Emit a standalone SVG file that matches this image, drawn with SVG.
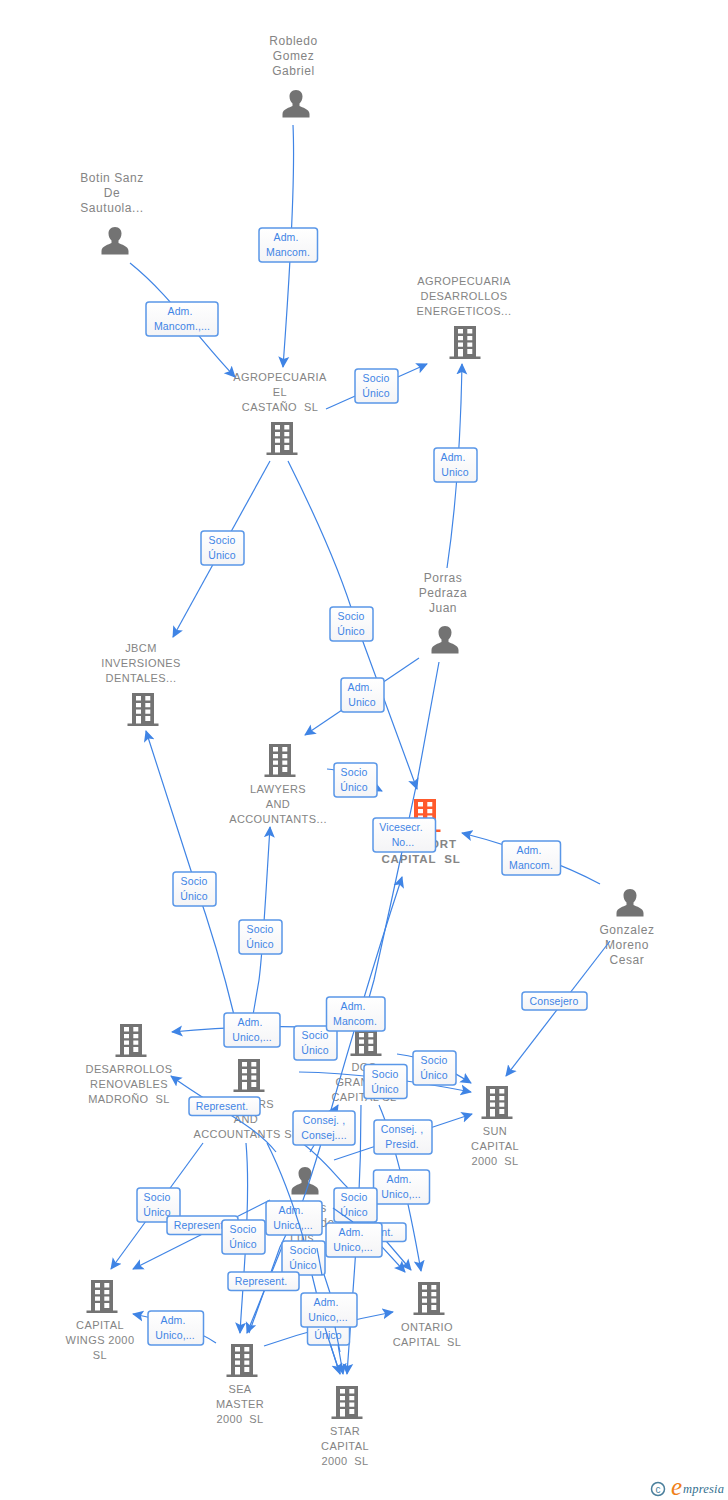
<svg xmlns="http://www.w3.org/2000/svg" width="728" height="1500" viewBox="0 0 728 1500">
<style>
.n{font:11px "Liberation Sans",Arial,sans-serif;fill:#848484;text-anchor:middle;letter-spacing:.4px;white-space:pre}
.h{font-size:12px;letter-spacing:.55px}
.nb{font-size:11.5px;font-weight:bold;letter-spacing:.85px;fill:#858585}
.c path{fill:none;stroke:#3f84e5;stroke-width:1.2}
.l rect{fill:url(#g);stroke:#5a97e8;stroke-width:1.5}
.l text{font:10.5px "Liberation Sans",Arial,sans-serif;fill:#3f84e5;text-anchor:middle;letter-spacing:.1px}
</style>
<defs>
<linearGradient id="g" x1="0" y1="0" x2="0" y2="1"><stop offset="0" stop-color="#fff"/><stop offset="1" stop-color="#f4f4f6"/></linearGradient>
<marker id="a" viewBox="0 0 12 12" refX="10.500" refY="6" markerWidth="12" markerHeight="12" markerUnits="userSpaceOnUse" orient="auto"><path d="M0 .5L11.500 6L0 11.500L2.500 6Z" fill="#3f84e5"/></marker>
<path id="b" d="M-15.500 17V14.500H-11V-16H11V14.500H15.500V17ZM-7-13v4.500h5V-13ZM2.300-13v4.500h5V-13ZM-7-6v4.300h5V-6ZM2.300-6v4.300h5V-6ZM-7 .5v4.300h5V.5ZM2.300 .5v4.300h5V.5ZM-7 7v7.500h5V7ZM2.300 7v5h5V7Z" fill-rule="evenodd"/>
<path id="p" d="M0-14C-4.500-14-6.500-11-6.500-7.500C-6.500-4-5-2-3.500-.5V2C-6 3.500-13.500 5-13.500 10V13.500H13.500V10C13.500 5 6 3.500 3.500 2V-.5C5-2 6.500-4 6.500-7.500C6.500-11 4.500-14 0-14Z"/>
</defs>
<rect width="728" height="1500" fill="#fff"/>
<g id="nodes">
<g id="n-robledo"><text class="n h" x="293.500" y="45">Robledo</text><text class="n h" x="293.500" y="60">Gomez</text><text class="n h" x="293.500" y="75">Gabriel</text><use href="#p" x="296" y="104" fill="#737373"/></g>
<g id="n-botin"><text class="n h" x="112" y="182">Botin Sanz</text><text class="n h" x="112" y="197">De</text><text class="n h" x="112" y="212">Sautuola...</text><use href="#p" x="115" y="241" fill="#737373"/></g>
<g id="n-castano"><text class="n" x="280" y="381">AGROPECUARIA</text><text class="n" x="280" y="396">EL</text><text class="n" x="280" y="411">CASTAÑO  SL</text><use href="#b" x="282" y="438" fill="#737373"/></g>
<g id="n-energeticos"><text class="n" x="464" y="285">AGROPECUARIA</text><text class="n" x="464" y="300">DESARROLLOS</text><text class="n" x="464" y="315">ENERGETICOS...</text><use href="#b" x="465" y="342" fill="#737373"/></g>
<g id="n-porras"><text class="n h" x="443" y="582">Porras</text><text class="n h" x="443" y="597">Pedraza</text><text class="n h" x="443" y="612">Juan</text><use href="#p" x="445" y="640" fill="#737373"/></g>
<g id="n-jbcm"><text class="n" x="141" y="652">JBCM</text><text class="n" x="141" y="667">INVERSIONES</text><text class="n" x="141" y="682">DENTALES...</text><use href="#b" x="143" y="709" fill="#737373"/></g>
<g id="n-lawyers1"><use href="#b" x="280" y="760" fill="#737373"/><text class="n" x="278" y="793">LAWYERS</text><text class="n" x="278" y="808">AND</text><text class="n" x="278" y="823">ACCOUNTANTS...</text></g>
<g id="n-port"><use href="#b" x="425" y="815" fill="#ff5a2c"/><text class="n nb" x="443.500" y="848">ORT</text><text class="n nb" x="421" y="863">CAPITAL  SL</text></g>
<g id="n-gonzalez"><use href="#p" x="630" y="903" fill="#737373"/><text class="n h" x="627" y="934">Gonzalez</text><text class="n h" x="627" y="949">Moreno</text><text class="n h" x="627" y="964">Cesar</text></g>
<g id="n-madrono"><use href="#b" x="131" y="1040" fill="#737373"/><text class="n" x="129" y="1073">DESARROLLOS</text><text class="n" x="129" y="1088">RENOVABLES</text><text class="n" x="129" y="1103">MADROÑO  SL</text></g>
<g id="n-lawyers2"><use href="#b" x="249" y="1075" fill="#737373"/><text class="n" x="246" y="1108">LAWYERS</text><text class="n" x="246" y="1123">AND</text><text class="n" x="246" y="1138">ACCOUNTANTS SL</text></g>
<g id="n-dos"><use href="#b" x="366" y="1039" fill="#737373"/><text class="n" x="364" y="1071">DOS</text><text class="n" x="364" y="1086">GRANDES</text><text class="n" x="364" y="1101">CAPITAL SL</text></g>
<g id="n-sun"><use href="#b" x="497" y="1102" fill="#737373"/><text class="n" x="495" y="1135">SUN</text><text class="n" x="495" y="1150">CAPITAL</text><text class="n" x="495" y="1165">2000  SL</text></g>
<g id="n-luis"><use href="#p" x="305" y="1181" fill="#737373"/><text class="n h" x="323.500" y="1212">s</text><text class="n h" x="327.500" y="1227">de</text><text class="n h" x="302" y="1242">Luis</text></g>
<g id="n-wings"><use href="#b" x="102" y="1296" fill="#737373"/><text class="n" x="100" y="1329">CAPITAL</text><text class="n" x="100" y="1344">WINGS 2000</text><text class="n" x="100" y="1359">SL</text></g>
<g id="n-ontario"><use href="#b" x="429" y="1298" fill="#737373"/><text class="n" x="427" y="1331">ONTARIO</text><text class="n" x="427" y="1346">CAPITAL  SL</text></g>
<g id="n-sea"><use href="#b" x="242" y="1360" fill="#737373"/><text class="n" x="240" y="1393">SEA</text><text class="n" x="240" y="1408">MASTER</text><text class="n" x="240" y="1423">2000  SL</text></g>
<g id="n-star"><use href="#b" x="347" y="1402" fill="#737373"/><text class="n" x="345" y="1435">STAR</text><text class="n" x="345" y="1450">CAPITAL</text><text class="n" x="345" y="1465">2000  SL</text></g>
</g>
<g id="connectors" class="c">
<path marker-end="url(#a)" d="M293 125Q296 190 283 367"/>
<path marker-end="url(#a)" d="M130 263C170 295 195 335 235 377"/>
<path marker-end="url(#a)" d="M326 409L427 364"/>
<path marker-end="url(#a)" d="M447 568Q460 480 462 364"/>
<path marker-end="url(#a)" d="M270 461L173 637"/>
<path marker-end="url(#a)" d="M288 461C310 505 340 570 355 620L417 789"/>
<path marker-end="url(#a)" d="M419 658L305 735"/>
<path marker-end="url(#a)" d="M327 769C345 770 360 780 382 791"/>
<path d="M439 662C430 710 424 745 417 782L392 898L374 980L360 1030"/>
<path marker-end="url(#a)" d="M600 884C565 865 510 845 462 833"/>
<path marker-end="url(#a)" d="M610 941L506 1076"/>
<path marker-end="url(#a)" d="M234 1015C222 965 208 920 194 880L146 731"/>
<path marker-end="url(#a)" d="M253 1015L259 980C263 950 266 890 270 827"/>
<path marker-end="url(#a)" d="M345 1029Q270 1023 172 1032"/>
<path marker-end="url(#a)" d="M276 1152C255 1125 215 1108 171 1076"/>
<path marker-end="url(#a)" d="M397 1054C430 1058 450 1070 471 1083"/>
<path marker-end="url(#a)" d="M299 1072C360 1073 420 1082 471 1092"/>
<path marker-end="url(#a)" d="M334 1160L472 1114"/>
<path marker-end="url(#a)" d="M249 1333L280 1247L303 1200C325 1140 345 1050 402 877"/>
<path marker-end="url(#a)" d="M310 1152L338 1105"/>
<path marker-end="url(#a)" d="M379 1105C392 1135 405 1180 421 1271"/>
<path marker-end="url(#a)" d="M299 1141C320 1155 335 1175 347 1187L382 1247L405 1272"/>
<path marker-end="url(#a)" d="M353 1222L387 1242L411 1270"/>
<path marker-end="url(#a)" d="M361 1105C361 1200 355 1260 347 1374"/>
<path marker-end="url(#a)" d="M203 1143L111 1269"/>
<path marker-end="url(#a)" d="M270 1200L133 1269"/>
<path marker-end="url(#a)" d="M246 1143C251 1200 243 1280 240 1333"/>
<path marker-end="url(#a)" d="M284 1242L247 1333"/>
<path marker-end="url(#a)" d="M216 1343Q190 1325 133 1314"/>
<path marker-end="url(#a)" d="M264 1346C310 1330 350 1320 393 1312"/>
<path marker-end="url(#a)" d="M320 1262L330 1293L335 1327L343 1374"/>
<path d="M303 1237L312 1275L325 1328L340 1374"/>
</g>
<g id="labels" class="l">
<g><rect x="259" y="228" width="58.500" height="34" rx="3"/><text x="286" y="241">Adm.</text><text x="288" y="256">Mancom.</text></g>
<g><rect x="146" y="302" width="72" height="34" rx="3"/><text x="180" y="315">Adm.</text><text x="182" y="330">Mancom.,...</text></g>
<g><rect x="355" y="369" width="43" height="34" rx="3"/><text x="376" y="382">Socio</text><text x="376" y="397">Único</text></g>
<g><rect x="434" y="448" width="43" height="34" rx="3"/><text x="453" y="461">Adm.</text><text x="455" y="476">Unico</text></g>
<g><rect x="201" y="531" width="43" height="34" rx="3"/><text x="222" y="544">Socio</text><text x="222" y="559">Único</text></g>
<g><rect x="330" y="607" width="43" height="34" rx="3"/><text x="351" y="620">Socio</text><text x="351" y="635">Único</text></g>
<g><rect x="341" y="678" width="43" height="34" rx="3"/><text x="360" y="691">Adm.</text><text x="362" y="706">Unico</text></g>
<g><rect x="334" y="763" width="43" height="34" rx="3"/><text x="354" y="776">Socio</text><text x="354" y="791">Único</text></g>
<g><rect x="373" y="818" width="62.500" height="34" rx="3"/><text x="401" y="831">Vicesecr.</text><text x="403" y="846">No...</text></g>
<g><rect x="502" y="841" width="58.500" height="34" rx="3"/><text x="529" y="854">Adm.</text><text x="531" y="869">Mancom.</text></g>
<g><rect x="173" y="872" width="43" height="34" rx="3"/><text x="194" y="885">Socio</text><text x="194" y="900">Único</text></g>
<g><rect x="239" y="920" width="43" height="34" rx="3"/><text x="260" y="933">Socio</text><text x="260" y="948">Único</text></g>
<g><rect x="522" y="992" width="65" height="18" rx="3"/><text x="554" y="1005">Consejero</text></g>
<g><rect x="224" y="1013" width="56" height="34" rx="3"/><text x="250" y="1026">Adm.</text><text x="252" y="1041">Unico,...</text></g>
<g><rect x="294" y="1026" width="43" height="34" rx="3"/><text x="315" y="1039">Socio</text><text x="315" y="1054">Único</text></g>
<g><rect x="326.500" y="997" width="58.500" height="34" rx="3"/><text x="353" y="1010">Adm.</text><text x="355" y="1025">Mancom.</text></g>
<g><rect x="413" y="1051" width="43" height="34" rx="3"/><text x="434" y="1064">Socio</text><text x="434" y="1079">Único</text></g>
<g><rect x="364" y="1064.500" width="43" height="34" rx="3"/><text x="385" y="1077.500">Socio</text><text x="385" y="1092.500">Único</text></g>
<g><rect x="189" y="1097" width="71" height="18.500" rx="3"/><text x="222" y="1110">Represent.</text></g>
<g><rect x="293" y="1111" width="62" height="34" rx="3"/><text x="324" y="1124">Consej. ,</text><text x="324" y="1139">Consej....</text></g>
<g><rect x="374" y="1120" width="58" height="34" rx="3"/><text x="402" y="1133">Consej. ,</text><text x="402" y="1148">Presid.</text></g>
<g><rect x="373.500" y="1170" width="56" height="34" rx="3"/><text x="399" y="1183">Adm.</text><text x="401" y="1198">Unico,...</text></g>
<g><rect x="137" y="1188" width="43" height="34" rx="3"/><text x="157" y="1201">Socio</text><text x="157" y="1216">Único</text></g>
<g><rect x="334" y="1188" width="43" height="34" rx="3"/><text x="354" y="1201">Socio</text><text x="354" y="1216">Único</text></g>
<g><rect x="167" y="1216" width="71" height="18.500" rx="3"/><text x="200" y="1229">Represent.</text></g>
<g><rect x="336" y="1223" width="70" height="18.500" rx="3"/><text x="367" y="1236">Represent.</text></g>
<g><rect x="222" y="1220" width="43" height="34" rx="3"/><text x="243" y="1233">Socio</text><text x="243" y="1248">Único</text></g>
<g><rect x="266" y="1201" width="56" height="34" rx="3"/><text x="291" y="1214">Adm.</text><text x="293" y="1229">Unico,...</text></g>
</g>
<g id="connectors-over-a" class="c">
<path d="M267 1143C278 1165 292 1200 303 1237"/>
<path d="M333 1208L353 1222"/>
</g>
<g id="labels-b" class="l">
<g><rect x="326" y="1223" width="56" height="34" rx="3"/><text x="351" y="1236">Adm.</text><text x="353" y="1251">Unico,...</text></g>
<g><rect x="282" y="1241" width="43" height="34" rx="3"/><text x="303" y="1254">Socio</text><text x="303" y="1269">Único</text></g>
<g><rect x="228" y="1272" width="71" height="18.500" rx="3"/><text x="261" y="1285">Represent.</text></g>
<g><rect x="307.500" y="1311" width="42" height="34" rx="3"/><text x="328" y="1324">Socio</text><text x="328" y="1339">Único</text></g>
<g><rect x="301" y="1293" width="56" height="34" rx="3"/><text x="326" y="1306">Adm.</text><text x="328" y="1321">Unico,...</text></g>
<g><rect x="148" y="1311" width="55.500" height="34" rx="3"/><text x="173" y="1324">Adm.</text><text x="175" y="1339">Unico,...</text></g>
</g>
<g id="connectors-over-b" class="c">
<path d="M317 1248L322 1275"/>
<path marker-end="url(#a)" d="M325 1328L340 1374"/>
<path d="M335 1327L340 1352"/>
</g>
<g id="logo"><circle cx="658" cy="1489" r="6.500" fill="none" stroke="#4a7f9c" stroke-width="1.500"/><text x="658" y="1492.500" font-family="Liberation Sans,sans-serif" font-size="10" fill="#4a7f9c" text-anchor="middle">c</text><text x="671" y="1495" font-family="Liberation Serif,serif" font-style="italic" font-size="25" fill="#f08018">e</text><text x="683" y="1493" font-family="Liberation Serif,serif" font-style="italic" font-size="12.500" fill="#33708f" letter-spacing=".2">mpresia</text></g>
</svg>
